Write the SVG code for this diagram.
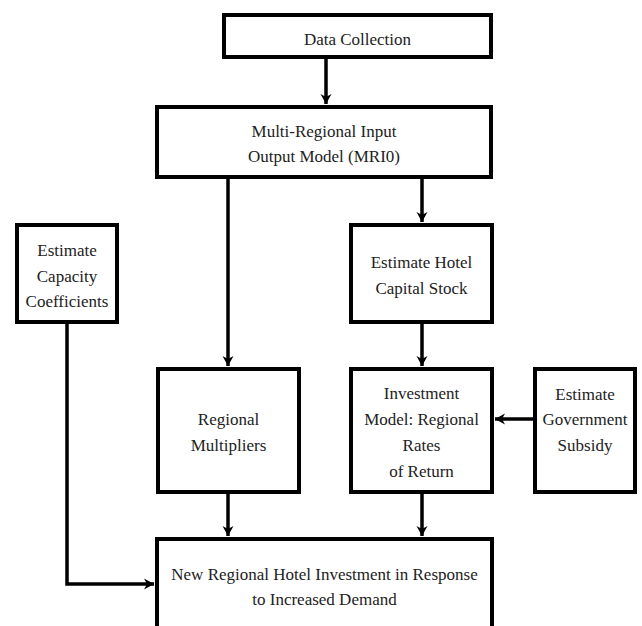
<svg xmlns="http://www.w3.org/2000/svg" width="642" height="626" viewBox="0 0 642 626">
<style>
.box{fill:#fff;stroke:#000;stroke-width:4}
.c{fill:none;stroke:#000;stroke-width:3.5}
</style>
<defs>
<marker id="ah" markerUnits="userSpaceOnUse" markerWidth="14" markerHeight="14" refX="11" refY="7" orient="auto">
<path d="M1,1.5 L11,7 L1,12.5 L4,7 z" fill="#000"/>
</marker>
</defs>
<rect width="642" height="626" fill="#fff"/>
<g id="connectors">
<line class="c" x1="326" y1="59" x2="326" y2="104" marker-end="url(#ah)"/>
<line class="c" x1="228" y1="179" x2="228" y2="366" marker-end="url(#ah)"/>
<line class="c" x1="422" y1="179" x2="422" y2="222" marker-end="url(#ah)"/>
<line class="c" x1="422" y1="324" x2="422" y2="366" marker-end="url(#ah)"/>
<line class="c" x1="228" y1="494" x2="228" y2="536" marker-end="url(#ah)"/>
<line class="c" x1="422" y1="494" x2="422" y2="536" marker-end="url(#ah)"/>
<line class="c" x1="533" y1="419" x2="495" y2="419" marker-end="url(#ah)"/>
<polyline class="c" points="67,324 67,584 154,584" marker-end="url(#ah)"/>
</g>
<g font-family="Liberation Serif, Times New Roman, serif" font-size="17" fill="#222" text-anchor="middle">
<g id="data-collection">
<rect class="box" x="224" y="15" width="267" height="42"/>
<text x="357.5" y="45">Data Collection</text>
</g>
<g id="mrio">
<rect class="box" x="157" y="107" width="334" height="70"/>
<text x="324" y="137">Multi-Regional Input</text>
<text x="324" y="162">Output Model (MRI0)</text>
</g>
<g id="capacity">
<rect class="box" x="17" y="225" width="100" height="97"/>
<text x="67" y="256">Estimate</text>
<text x="67" y="282">Capacity</text>
<text x="67" y="307">Coefficients</text>
</g>
<g id="hotel-capital">
<rect class="box" x="351" y="225" width="141" height="97"/>
<text x="421.5" y="268">Estimate Hotel</text>
<text x="421.5" y="294">Capital Stock</text>
</g>
<g id="regional-multipliers">
<rect class="box" x="158" y="369" width="141" height="123"/>
<text x="228.5" y="425">Regional</text>
<text x="228.5" y="451">Multipliers</text>
</g>
<g id="investment-model">
<rect class="box" x="351" y="369" width="141" height="123"/>
<text x="421.5" y="399">Investment</text>
<text x="421.5" y="425">Model: Regional</text>
<text x="421.5" y="451">Rates</text>
<text x="421.5" y="477">of Return</text>
</g>
<g id="subsidy">
<rect class="box" x="535" y="369" width="100" height="123"/>
<text x="585" y="400">Estimate</text>
<text x="585" y="425">Government</text>
<text x="585" y="451">Subsidy</text>
</g>
<g id="new-investment">
<rect class="box" x="157" y="539" width="335" height="100"/>
<text x="324.5" y="580">New Regional Hotel Investment in Response</text>
<text x="324.5" y="605">to Increased Demand</text>
</g>
</g>
</svg>
